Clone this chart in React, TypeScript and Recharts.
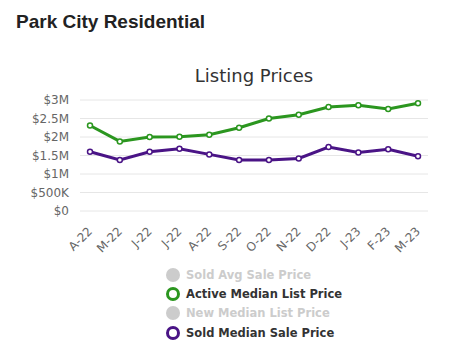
import { LineChart, Line, XAxis, YAxis, CartesianGrid } from 'recharts'

const months = ['A-22', 'M-22', 'J-22', 'J-22', 'A-22', 'S-22', 'O-22', 'N-22', 'D-22', 'J-23', 'F-23', 'M-23']
const activeMedianList = [2310000, 1880000, 2000000, 2010000, 2060000, 2250000, 2500000, 2600000, 2810000, 2860000, 2760000, 2910000]
const soldMedianSale = [1600000, 1380000, 1600000, 1680000, 1530000, 1380000, 1380000, 1420000, 1730000, 1580000, 1670000, 1480000]
const yTicks = [0, 500000, 1000000, 1500000, 2000000, 2500000, 3000000]

const legendItems = [
  { name: 'Sold Avg Sale Price', color: '#cccccc', hidden: true },
  { name: 'Active Median List Price', color: '#2b961f', hidden: false },
  { name: 'New Median List Price', color: '#cccccc', hidden: true },
  { name: 'Sold Median Sale Price', color: '#4a1486', hidden: false },
]

const data = months.map((m, i) => ({
  month: m,
  active: activeMedianList[i],
  sold: soldMedianSale[i],
}))

const fmtMoney = (v: number) => {
  if (v === 0) return '$0'
  if (v >= 1000000) return `$${v / 1000000}M`
  return `$${v / 1000}K`
}

const font = '"DejaVu Sans", sans-serif'

function MonthTick(props: any) {
  const { x, y, payload } = props
  return (
    <text
      x={x + 3}
      y={y + 13}
      transform={`rotate(-45 ${x + 3} ${y + 13})`}
      textAnchor="end"
      fill="#666666"
      fontSize={12}
      fontFamily={font}
    >
      {payload.value}
    </text>
  )
}

function LegendList() {
  return (
    <div style={{ fontFamily: font, fontSize: 11.5, fontWeight: 'bold' }}>
      {legendItems.map(item => (
        <div key={item.name} style={{ display: 'flex', alignItems: 'center', height: 19.3 }}>
          <span
            style={{
              display: 'inline-block',
              boxSizing: 'border-box',
              width: 14,
              height: 14,
              borderRadius: '50%',
              marginRight: 6,
              background: item.hidden ? item.color : '#ffffff',
              border: item.hidden ? 'none' : `3px solid ${item.color}`,
            }}
          />
          <span style={{ color: item.hidden ? '#cccccc' : '#333333' }}>{item.name}</span>
        </div>
      ))}
    </div>
  )
}

export default function App() {
  return (
    <div style={{ position: 'absolute', left: 0, top: 0, width: 474, height: 359, background: '#ffffff', overflow: 'hidden' }}>
      <div
        style={{
          position: 'absolute',
          left: 16,
          top: 11,
          fontFamily: '"Liberation Sans", Arial, sans-serif',
          fontWeight: 'bold',
          fontSize: 19,
          color: '#222222',
          whiteSpace: 'nowrap',
        }}
      >
        Park City Residential
      </div>
      <div
        style={{
          position: 'absolute',
          left: 80,
          width: 348,
          top: 65,
          textAlign: 'center',
          fontFamily: font,
          fontSize: 18,
          color: '#333333',
        }}
      >
        Listing Prices
      </div>
      <div style={{ position: 'absolute', left: 0, top: 0 }}>
        <LineChart width={474} height={260} data={data} margin={{ top: 100, right: 46, bottom: 0, left: 0 }}>
          <CartesianGrid vertical={false} stroke="#e6e6e6" />
          <XAxis
            dataKey="month"
            axisLine={false}
            tickLine={false}
            interval={0}
            height={49}
            padding={{ left: 10, right: 10 }}
            tick={<MonthTick />}
          />
          <YAxis
            width={80}
            domain={[0, 3000000]}
            ticks={yTicks}
            interval={0}
            tickFormatter={fmtMoney}
            axisLine={false}
            tickLine={false}
            tickSize={0}
            tickMargin={11}
            tick={{ fill: '#666666', fontSize: 12, fontFamily: font }}
          />
          <Line
            dataKey="active"
            stroke="#2b961f"
            strokeWidth={3}
            dot={{ r: 2.5, fill: '#ffffff', stroke: '#2b961f', strokeWidth: 1.5 }}
            isAnimationActive={false}
          />
          <Line
            dataKey="sold"
            stroke="#4a1486"
            strokeWidth={3}
            dot={{ r: 2.5, fill: '#ffffff', stroke: '#4a1486', strokeWidth: 1.5 }}
            isAnimationActive={false}
          />
        </LineChart>
      </div>
      <div style={{ position: 'absolute', left: 166, top: 265 }}>
        <LegendList />
      </div>
    </div>
  )
}
